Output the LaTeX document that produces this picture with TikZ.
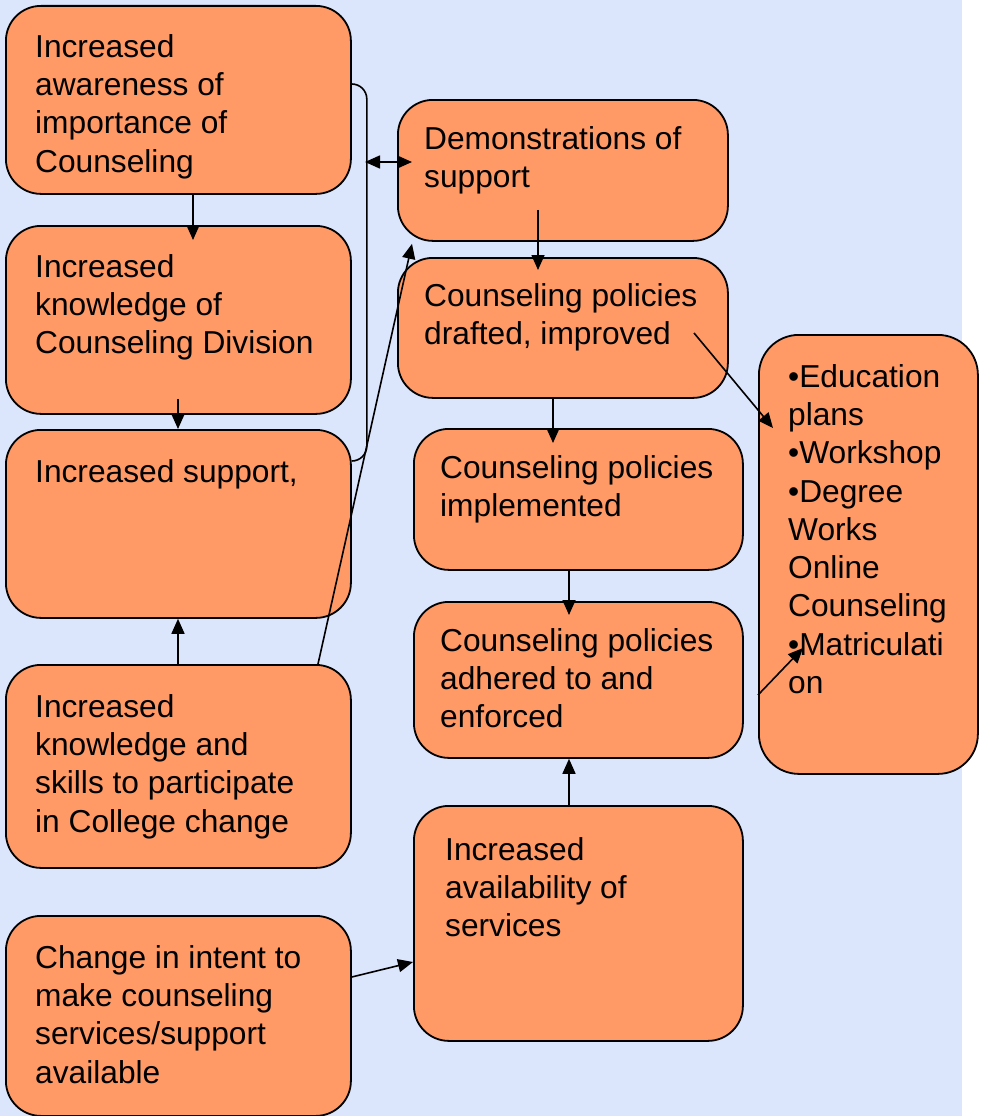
\documentclass[tikz,border=0pt]{standalone}
\usepackage{fontspec}
\setmainfont{Liberation Sans}
\usetikzlibrary{arrows.meta,calc}
\definecolor{bgblue}{RGB}{219,229,251}
\definecolor{boxorange}{RGB}{255,153,102}
\begin{document}
\begin{tikzpicture}[x=1pt,y=-1pt,
  box/.style={draw=black,line width=1.8pt,fill=boxorange,rounded corners=35pt,anchor=north west,inner sep=0pt},
  txt/.style={anchor=north west,inner sep=0pt,align=left,font=\fontsize{31.7}{38.3}\selectfont},
  arr/.style={line width=1.6pt,-{Triangle[length=15pt,width=13pt]}},
  darr/.style={line width=1.6pt,{Triangle[length=15pt,width=13pt]}-{Triangle[length=15pt,width=13pt]}},
  ln/.style={line width=1.6pt}]
\fill[bgblue] (0,0) rectangle (962,1116);
\useasboundingbox (0,0) rectangle (981,1116);

% left column
\node[box,minimum width=345pt,minimum height=188pt] (A) at (5,5) {};
\node[box,minimum width=345pt,minimum height=188pt] (B) at (5,225) {};
\node[box,minimum width=345pt,minimum height=188pt] (C) at (5,429) {};
\node[box,minimum width=345pt,minimum height=203pt] (D) at (5,664) {};
\node[box,minimum width=345pt,minimum height=200pt] (E) at (5,915) {};
% middle column
\node[box,minimum width=330pt,minimum height=141pt] (F) at (397,99) {};
\node[box,minimum width=330pt,minimum height=140pt] (G) at (397,257) {};
\node[box,minimum width=329pt,minimum height=141pt] (H) at (413,428) {};
\node[box,minimum width=329pt,minimum height=156pt] (I) at (413,601) {};
\node[box,minimum width=329pt,minimum height=235pt] (J) at (413,805) {};
% right column
\node[box,rounded corners=40pt,minimum width=219pt,minimum height=439pt] (K) at (758,334) {};

% texts
\node[txt] (tA) at (35,34) {Increased\\awareness of\\importance of\\Counseling};
\node[txt] (tB) at (35,254) {Increased\\knowledge of\\Counseling Division};
\node[txt] (tC) at (35,459) {Increased support,};
\node[txt] (tD) at (35,694) {Increased\\knowledge and\\skills to participate\\in College change};
\node[txt] (tE) at (35,945) {Change in intent to\\make counseling\\services/support\\available};
\node[txt] (tF) at (424,126) {Demonstrations of\\support};
\node[txt] (tG) at (424,283) {Counseling policies\\drafted, improved};
\node[txt] (tH) at (440,455) {Counseling policies\\implemented};
\node[txt] (tI) at (440,628) {Counseling policies\\adhered to and\\enforced};
\node[txt] (tJ) at (445,837) {Increased\\availability of\\services};
\node[txt] (tK) at (788,364) {•Education\\plans\\•Workshop\\•Degree\\Works\\Online\\Counseling\\•Matriculati\\on};

% connectors
\draw[arr] ($(A.south west)+(188,0)$) -- ($(B.north west)+(188,15)$);
\draw[arr] ($(B.south west)+(173,-16)$) -- ($(C.north west)+(173,0)$);
\draw[arr] ($(D.north west)+(173,0)$) -- ($(C.south west)+(173,0)$);
\draw[arr] ($(D.north west)+(313,0)$) -- ($(F.south west)+(15,2)$);
\draw[arr] ($(E.north east)+(0,62)$) -- ($(J.north west)+(0,157)$);
\draw[ln,rounded corners=15pt] ($(A.north east)+(0,79)$) -- ++(15,0) |- ($(C.north east)+(0,32)$);
\coordinate (brk) at (365,162);
\draw[darr] (brk) -- ($(F.north west)+(15,63)$);
\draw[arr] ($(F.south west)+(141,-32)$) -- ($(G.north west)+(141,13)$);
\draw[arr] ($(G.south west)+(156,0)$) -- ($(H.north west)+(140,15)$);
\draw[arr] ($(H.south west)+(156,0)$) -- ($(I.north west)+(156,14)$);
\draw[arr] ($(J.north west)+(156,0)$) -- ($(I.south west)+(156,0)$);
\draw[arr] ($(G.north west)+(297,76)$) -- ($(K.north west)+(15,94)$);
\draw[arr] ($(K.north west)+(0,361)$) -- ($(K.north west)+(45,314)$);
\end{tikzpicture}
\end{document}
